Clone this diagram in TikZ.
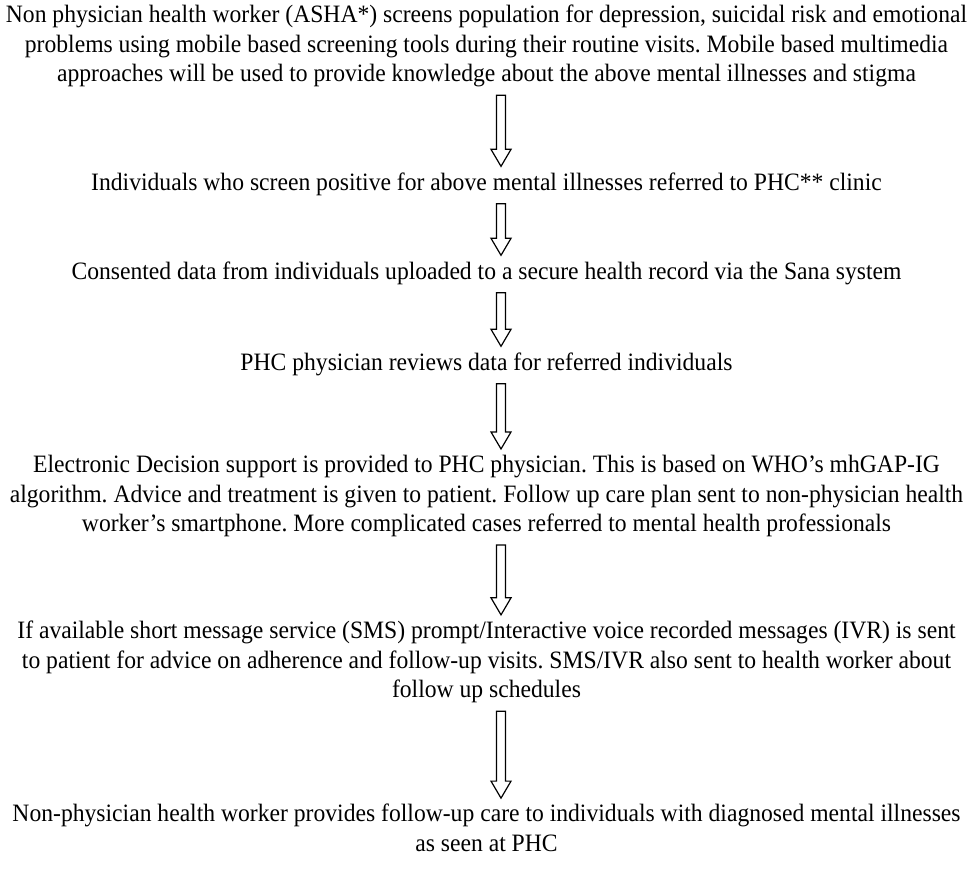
\documentclass[tikz,border=0pt]{standalone}
\usepackage{fontspec}
\setmainfont[FakeStretch=0.945]{Liberation Serif}
\usetikzlibrary{calc}
\frenchspacing

\tikzset{
  stage/.style={align=center, inner sep=0pt, font=\fontsize{25}{29.5}\selectfont},
  hollow/.style={line width=1.2pt, line join=miter},
}
% open block arrow from one stage down to the next
\newcommand\stagearrow[2]{%
  \draw[hollow] let \p1=($(#1.south -| axis)+(0,-8pt)$), \p2=($(#2.north -| axis)+(0,6pt)$) in
    (\x1-4.5pt,\y1) -- (\x1+4.5pt,\y1) -- (\x1+4.5pt,\y2+17pt) -- (\x1+10pt,\y2+17pt)
    -- (\x1,\y2) -- (\x1-10pt,\y2+17pt) -- (\x1-4.5pt,\y2+17pt) -- cycle;}

\begin{document}
\begin{tikzpicture}[x=1pt,y=1pt]
%
	\useasboundingbox (0,0) rectangle (973,-883);
	\coordinate (axis) at (501,0);
%
	\node[stage] (screen) at (486.5,-46) {Non physician health worker (ASHA*) screens population for depression, suicidal risk and emotional\\ problems using mobile based screening tools during their routine visits. Mobile based multimedia\\ approaches will be used to provide knowledge about the above mental illnesses and stigma};
	\node[stage] (refer) at (486.5,-184) {Individuals who screen positive for above mental illnesses referred to PHC** clinic};
	\node[stage] (upload) at (486.5,-273) {Consented data from individuals uploaded to a secure health record via the Sana system};
	\node[stage] (review) at (486.5,-364) {PHC physician reviews data for referred individuals};
	\node[stage] (support) at (486.5,-496) {Electronic Decision support is provided to PHC physician. This is based on WHO’s mhGAP-IG\\ algorithm. Advice and treatment is given to patient. Follow up care plan sent to non-physician health\\ worker’s smartphone. More complicated cases referred to mental health professionals};
	\node[stage] (sms) at (486.5,-662) {If available short message service (SMS) prompt/Interactive voice recorded messages (IVR) is sent\\ to patient for advice on adherence and follow-up visits. SMS/IVR also sent to health worker about\\ follow up schedules};
	\node[stage] (care) at (486.5,-828) {Non-physician health worker provides follow-up care to individuals with diagnosed mental illnesses\\ as seen at PHC};
%
	\stagearrow{screen}{refer}
	\stagearrow{refer}{upload}
	\stagearrow{upload}{review}
	\stagearrow{review}{support}
	\stagearrow{support}{sms}
	\stagearrow{sms}{care}
%
\end{tikzpicture}
\end{document}
